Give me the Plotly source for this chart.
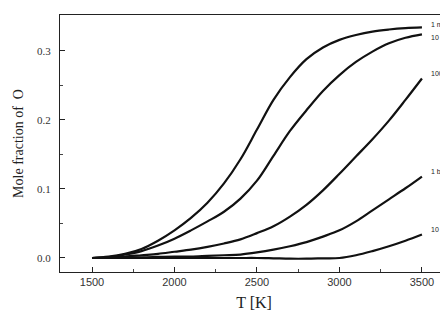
import plotly.graph_objects as go

T = [1500, 1600, 1700, 1800, 1900, 2000, 2100, 2200, 2300, 2400, 2500,
     2600, 2700, 2800, 2900, 3000, 3100, 3200, 3300, 3400, 3500]

x_1mbar = [0, 0.002, 0.006, 0.013, 0.025, 0.040, 0.058, 0.080, 0.108, 0.143, 0.186,
           0.229, 0.262, 0.288, 0.305, 0.316, 0.323, 0.328, 0.331, 0.333, 0.334]
x_10mbar = [0, 0.001, 0.005, 0.010, 0.018, 0.028, 0.040, 0.053, 0.067, 0.086, 0.112,
            0.148, 0.184, 0.214, 0.242, 0.265, 0.284, 0.299, 0.311, 0.319, 0.324]
x_100mbar = [0, 0.001, 0.002, 0.004, 0.006, 0.009, 0.012, 0.016, 0.021, 0.027, 0.036,
             0.046, 0.060, 0.077, 0.098, 0.122, 0.147, 0.172, 0.199, 0.229, 0.260]
x_1bar = [0, 0.0005, 0.001, 0.001, 0.0015, 0.002, 0.002, 0.003, 0.004, 0.005, 0.008,
          0.012, 0.017, 0.023, 0.031, 0.040, 0.053, 0.069, 0.085, 0.101, 0.118]
x_10bar = [0, 0, 0, 0, 0, 0, 0, 0, 0, 0, 0,
           -0.0005, -0.001, -0.001, -0.0005, 0.0, 0.004, 0.010, 0.017, 0.025, 0.034]

series = [("1 mbar", x_1mbar), ("10 mbar", x_10mbar), ("100 mbar", x_100mbar),
          ("1 bar", x_1bar), ("10 bar", x_10bar)]
label_shift = [3, -3, 5, 5, 5]

fig = go.Figure()
for (name, ys), dy in zip(series, label_shift):
    fig.add_trace(go.Scatter(x=T, y=ys, mode="lines", name=name,
                             line=dict(color="#111111", width=2.2, shape="spline", smoothing=1.0),
                             showlegend=False))
    fig.add_annotation(x=3545, y=ys[-1], text=name, showarrow=False, xanchor="left",
                       yshift=dy, font=dict(family="Liberation Sans", size=7, color="#222"))

# the page body has an 8px default margin, so the figure is sized/offset accordingly
fig.update_layout(
    width=440, height=308,
    margin=dict(l=52, r=0, t=7, b=44),
    plot_bgcolor="white", paper_bgcolor="white",
)
fig.update_xaxes(range=[1306, 3658], tickvals=[1500, 2000, 2500, 3000, 3500],
                 automargin=False,
                 ticks="inside", ticklen=5, tickcolor="#222", showgrid=False, zeroline=False,
                 showline=True, linecolor="#222", linewidth=1.2, mirror=True,
                 minor=dict(tickvals=[1750, 2250, 2750, 3250], ticks="inside", ticklen=3, tickcolor="#444"),
                 tickfont=dict(family="Liberation Sans", size=11, color="#333"),
                 title=dict(text="T [K]", font=dict(family="Liberation Serif", size=16, color="#222"), standoff=9))
fig.update_yaxes(range=[-0.0203, 0.352], tickvals=[0.0, 0.1, 0.2, 0.3], ticktext=["0.0", "0.1", "0.2", "0.3"],
                 automargin=False, ticklabelstandoff=6,
                 ticks="inside", ticklen=5, tickcolor="#222", showgrid=False, zeroline=False,
                 showline=True, linecolor="#222", linewidth=1.2,
                 minor=dict(tickvals=[0.05, 0.15, 0.25], ticks="inside", ticklen=3, tickcolor="#444"),
                 tickfont=dict(family="Liberation Serif", size=11, color="#333"),
                 title=dict(text="Mole fraction of  O", font=dict(family="Liberation Serif", size=14, color="#222"), standoff=10))

fig.write_html("out.html")
